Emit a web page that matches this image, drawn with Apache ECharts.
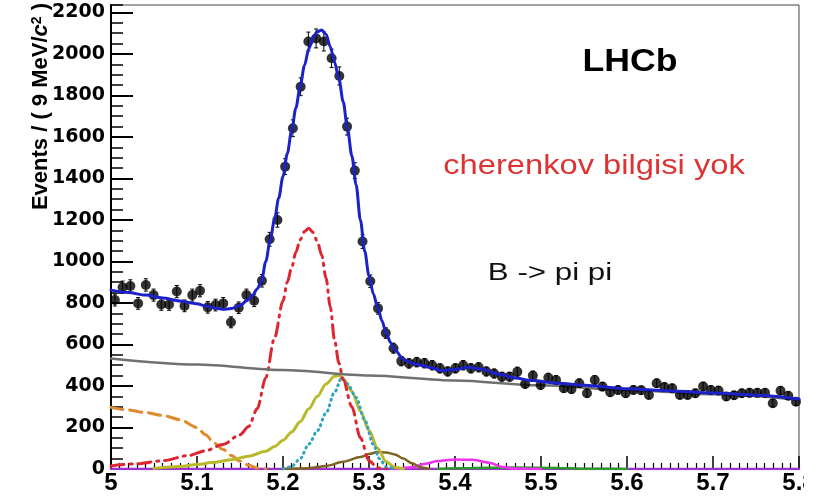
<!DOCTYPE html>
<html>
<head>
<meta charset="utf-8">
<title>LHCb B -> pi pi</title>
<script src="https://cdn.jsdelivr.net/npm/echarts@6/dist/echarts.min.js"></script>
<style>
  html, body { margin: 0; padding: 0; background: #fff; }
  #chart { width: 819px; height: 502px; }
</style>
</head>
<body>
<div id="chart"></div>
<script>
// histogram, 9 MeV bins starting at 5.0 GeV
const binStart = 5.0;
const binWidth = 0.009;
const counts = [
  814, 876, 882, 798, 887, 838, 793, 793, 855, 786,
  838, 859, 779, 790, 798, 707, 777, 838, 811, 907,
  1107, 1200, 1457, 1642, 1842, 2060, 2075, 2060, 1979, 1894,
  1650, 1438, 1096, 905, 774, 655, 582, 520, 509, 515,
  510, 500, 485, 470, 485, 500, 485, 490, 470, 460,
  445, 445, 469, 410, 450, 405, 440, 429, 389, 385,
  413, 365, 429, 397, 370, 381, 365, 381, 380, 357,
  413, 395, 389, 357, 357, 365, 398, 381, 378, 349,
  355, 365, 367, 367, 367, 317, 377, 353, 324
];

// total fit (blue)
const fitMass = [5.0, 5.02, 5.04, 5.06, 5.08, 5.1, 5.11, 5.12, 5.13, 5.14, 5.15, 5.16, 5.165, 5.17, 5.175,
  5.18, 5.185, 5.19, 5.195, 5.2, 5.205, 5.21, 5.215, 5.22, 5.225, 5.23, 5.235, 5.24, 5.245, 5.25,
  5.255, 5.26, 5.265, 5.27, 5.275, 5.28, 5.285, 5.29, 5.295, 5.3, 5.305, 5.31, 5.315, 5.32, 5.325,
  5.33, 5.34, 5.35, 5.36, 5.37, 5.385, 5.4, 5.415, 5.43, 5.45, 5.47, 5.49, 5.52, 5.55, 5.6,
  5.65, 5.7, 5.75, 5.8];
const fitEvents = [862, 850, 838, 824, 810, 796, 786, 776, 770, 773, 788, 818, 840, 868, 905,
  1000, 1100, 1200, 1305, 1410, 1520, 1630, 1740, 1845, 1945, 2025, 2080, 2108, 2115, 2095,
  2035, 1960, 1880, 1770, 1640, 1510, 1370, 1200, 1050, 930, 845, 780, 715, 655, 610,
  575, 528, 510, 500, 490, 474, 480, 490, 482, 458, 438, 426, 413, 404, 387,
  376, 366, 356, 337];

// combinatorial background (grey)
const combMass = [5.0, 5.1, 5.2, 5.3, 5.4, 5.5, 5.6, 5.7, 5.8];
const combEvents = [533, 504, 477, 451, 427, 403, 381, 360, 334];

// misidentified peak (red dash-dot)
const misMass = [5.0, 5.03, 5.06, 5.09, 5.11, 5.13, 5.15, 5.16, 5.17, 5.18, 5.19, 5.2, 5.205,
  5.21, 5.215, 5.22, 5.225, 5.23, 5.235, 5.24, 5.245, 5.25, 5.255, 5.26, 5.265, 5.27, 5.28,
  5.29, 5.3, 5.31, 5.32];
const misEvents = [15, 25, 40, 65, 88, 118, 165, 205, 290, 440, 630, 810, 900,
  970, 1045, 1105, 1145, 1160, 1140, 1095, 1030, 920, 780, 620, 510, 430, 300,
  150, 40, 5, 0];

// partially reconstructed (orange dashed)
const partMass = [5.0, 5.02, 5.04, 5.06, 5.08, 5.1, 5.11, 5.12, 5.13, 5.14, 5.15, 5.16, 5.17, 5.18];
const partEvents = [297, 285, 272, 258, 238, 200, 165, 125, 95, 65, 38, 18, 5, 0];

// signal-like component (olive solid)
const sigMass = [5.05, 5.08, 5.1, 5.12, 5.14, 5.16, 5.18, 5.19, 5.2, 5.21, 5.22, 5.23, 5.24, 5.25,
  5.26, 5.265, 5.27, 5.28, 5.29, 5.3, 5.31, 5.32, 5.33, 5.34];
const sigEvents = [3, 12, 22, 32, 45, 62, 85, 108, 138, 178, 228, 290, 350, 410,
  447, 452, 435, 375, 280, 185, 100, 35, 8, 0];

// narrow component (cyan dotted)
const narrowMass = [5.2, 5.21, 5.22, 5.23, 5.24, 5.25, 5.26, 5.268, 5.275, 5.285, 5.295, 5.305, 5.312, 5.32, 5.33];
const narrowEvents = [0, 12, 50, 120, 185, 270, 370, 438, 410, 345, 235, 120, 50, 10, 0];

// small components near the baseline
const brownMass = [5.2, 5.23, 5.25, 5.27, 5.29, 5.3, 5.31, 5.32, 5.33, 5.34, 5.35, 5.36, 5.37];
const brownEvents = [0, 4, 15, 35, 58, 72, 82, 80, 70, 50, 28, 8, 0];
const pinkMass = [5.33, 5.35, 5.365, 5.38, 5.4, 5.42, 5.44, 5.455, 5.47, 5.5];
const pinkEvents = [0, 8, 25, 38, 46, 44, 30, 10, 2, 0];
const greenMass = [5.38, 5.42, 5.47, 5.52, 5.56, 5.6];
const greenEvents = [0, 5, 7, 5, 1, 0];
const flatMass = [5.0, 5.8];
const flatEvents = [0, 0];

function pairs(xs, ys) {
  return xs.map((x, i) => [x, ys[i]]);
}

const points = counts.map((c, i) => [binStart + binWidth * (i + 0.5), c]);

function curve(name, xs, ys, color, width, type, z) {
  return {
    name: name,
    type: "line",
    data: pairs(xs, ys),
    showSymbol: false,
    smooth: 0.3,
    smoothMonotone: "x",
    lineStyle: { color: color, width: width, type: type, cap: "round" },
    z: z || 2,
    silent: true,
  };
}

const myChart = echarts.init(document.getElementById("chart"));
const option = {
  animation: false,
  backgroundColor: "#fff",
  grid: {
    left: 111,
    right: 20,
    top: 5,
    bottom: 33,
    show: true,
    borderColor: "#444",
    borderWidth: 1,
  },
  xAxis: {
    type: "value",
    min: 5,
    max: 5.8,
    interval: 0.1,
    axisLine: { lineStyle: { color: "#000", width: 2 } },
    axisTick: { inside: true, length: 13, lineStyle: { color: "#000", width: 1.5 } },
    minorTick: { show: true, splitNumber: 10, length: 6, lineStyle: { color: "#000", width: 1.2 } },
    splitLine: { show: false },
    axisLabel: {
      color: "#000",
      fontFamily: "Liberation Sans",
      fontWeight: "bold",
      fontSize: 24,
      margin: 2,
    },
  },
  yAxis: [
    {
      type: "value",
      min: 0,
      max: 2236,
      interval: 200,
      axisLine: { lineStyle: { color: "#000", width: 2 } },
      axisTick: { inside: true, length: 22, lineStyle: { color: "#000", width: 2 } },
      splitLine: { show: false },
      axisLabel: {
        color: "#000",
        fontFamily: "DejaVu Sans",
        fontWeight: "bold",
        fontSize: 19,
        margin: 6,
        showMaxLabel: false,
        formatter: (v) => String(v),
      },
    },
    {
      type: "value",
      position: "left",
      min: 0,
      max: 2236,
      interval: 50,
      axisLine: { show: false },
      axisTick: { inside: true, length: 12, lineStyle: { color: "#000", width: 1.5 } },
      splitLine: { show: false },
      axisLabel: { show: false },
    },
  ],
  series: [
    curve("flat", flatMass, flatEvents, "#9933cc", 2.5, "solid"),
    curve("green", greenMass, greenEvents, "#2a9a2a", 2.5, "solid"),
    curve("pink", pinkMass, pinkEvents, "#ee33ee", 2.5, "solid"),
    curve("brown", brownMass, brownEvents, "#7d6220", 2.5, "solid"),
    curve("partial", partMass, partEvents, "#e08a30", 3, [12, 7]),
    curve("signal", sigMass, sigEvents, "#b8ba2c", 3, "solid"),
    curve("narrow", narrowMass, narrowEvents, "#2fa5bb", 3, [1, 4.5]),
    curve("misid", misMass, misEvents, "#dd2630", 3, [13, 6, 2, 6]),
    curve("comb", combMass, combEvents, "#707070", 2.5, "solid"),
    {
      name: "errors",
      type: "custom",
      silent: true,
      z: 3,
      encode: { x: 0, y: 1 },
      data: points,
      renderItem: function (params, api) {
        const x = api.value(0);
        const y = api.value(1);
        const e = Math.sqrt(y);
        const top = api.coord([x, y + e]);
        const bot = api.coord([x, y - e]);
        const st = { stroke: "#000", lineWidth: 1 };
        return {
          type: "group",
          children: [
            { type: "line", shape: { x1: top[0], y1: top[1], x2: bot[0], y2: bot[1] }, style: st },
            { type: "line", shape: { x1: top[0] - 2, y1: top[1], x2: top[0] + 2, y2: top[1] }, style: st },
            { type: "line", shape: { x1: bot[0] - 2, y1: bot[1], x2: bot[0] + 2, y2: bot[1] }, style: st },
          ],
        };
      },
    },
    {
      name: "data",
      type: "scatter",
      data: points,
      symbol: "circle",
      symbolSize: 10,
      itemStyle: { color: "#000" },
      z: 4,
      silent: true,
    },
    curve("fit", fitMass, fitEvents, "#1c22c8", 3, "solid", 5),
  ],
  graphic: [
    {
      type: "text",
      x: 41,
      y: 3,
      rotation: Math.PI / 2,
      style: {
        text: "{a|Events / ( 9 MeV/}{c|c}{s|2}{a| )}",
        align: "right",
        verticalAlign: "middle",
        rich: {
          a: { fontFamily: "Liberation Sans", fontWeight: "bold", fontSize: 22, fill: "#000" },
          c: { fontFamily: "Liberation Sans", fontWeight: "bold", fontStyle: "italic", fontSize: 22, fill: "#000" },
          s: { fontFamily: "Liberation Sans", fontWeight: "bold", fontSize: 14, fill: "#000", verticalAlign: "top" },
        },
      },
    },
    {
      type: "text",
      x: 630,
      y: 62,
      scaleX: 1.15,
      style: {
        text: "LHCb",
        fontFamily: "Liberation Sans",
        fontWeight: "bold",
        fontSize: 31,
        fill: "#000",
        align: "center",
        verticalAlign: "middle",
      },
    },
    {
      type: "text",
      x: 594,
      y: 167,
      scaleX: 1.21,
      style: {
        text: "cherenkov bilgisi yok",
        fontFamily: "Liberation Sans",
        fontSize: 27,
        fill: "#dd3333",
        align: "center",
        verticalAlign: "middle",
      },
    },
    {
      type: "text",
      x: 550,
      y: 274,
      scaleX: 1.36,
      style: {
        text: "B -> pi pi",
        fontFamily: "Liberation Sans",
        fontSize: 23,
        fill: "#111",
        align: "center",
        verticalAlign: "middle",
      },
    },
    {
      type: "rect",
      shape: { x: 804, y: 472, width: 15, height: 30 },
      style: { fill: "#fff" },
      z: 100,
    },
  ],
};
myChart.setOption(option);
</script>
</body>
</html>
